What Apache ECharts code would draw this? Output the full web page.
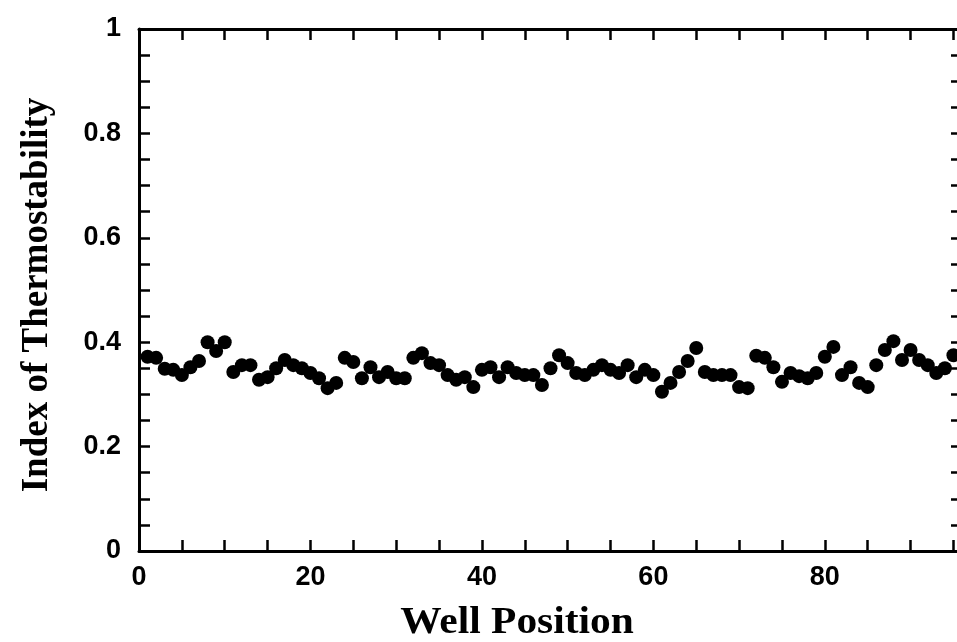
<!DOCTYPE html>
<html>
<head>
<meta charset="utf-8">
<script src="https://cdn.jsdelivr.net/npm/echarts@6/dist/echarts.min.js"></script>
<style>
  html, body { margin: 0; padding: 0; background: #fff; }
  #chart { width: 957px; height: 642px; }
</style>
</head>
<body>
<div id="chart"></div>
<script>
// well numbers on the plate
const wells = [
  1, 2, 3, 4, 5, 6, 7, 8, 9, 10, 11, 12, 13, 14, 15, 16, 17, 18, 19, 20,
  21, 22, 23, 24, 25, 26, 27, 28, 29, 30, 31, 32, 33, 34, 35, 36, 37, 38, 39, 40,
  41, 42, 43, 44, 45, 46, 47, 48, 49, 50, 51, 52, 53, 54, 55, 56, 57, 58, 59, 60,
  61, 62, 63, 64, 65, 66, 67, 68, 69, 70, 71, 72, 73, 74, 75, 76, 77, 78, 79, 80,
  81, 82, 83, 84, 85, 86, 87, 88, 89, 90, 91, 92, 93, 94, 95
]

// index of thermostability
const thermo = [
  0.372, 0.370, 0.349, 0.347, 0.337, 0.352, 0.364, 0.400, 0.383, 0.400,
  0.343, 0.356, 0.356, 0.328, 0.333, 0.350, 0.366, 0.356, 0.350, 0.341,
  0.331, 0.312, 0.322, 0.370, 0.362, 0.331, 0.352, 0.333, 0.343, 0.331,
  0.331, 0.370, 0.379, 0.360, 0.356, 0.337, 0.328, 0.333, 0.314, 0.347,
  0.352, 0.333, 0.352, 0.341, 0.337, 0.337, 0.318, 0.350, 0.375, 0.360,
  0.341, 0.337, 0.347, 0.356, 0.347, 0.341, 0.356, 0.333, 0.347, 0.337,
  0.305, 0.322, 0.343, 0.364, 0.389, 0.343, 0.337, 0.337, 0.337, 0.314,
  0.312, 0.374, 0.370, 0.352, 0.324, 0.341, 0.335, 0.331, 0.341, 0.372,
  0.391, 0.337, 0.352, 0.322, 0.314, 0.356, 0.385, 0.402, 0.366, 0.385,
  0.366, 0.356, 0.341, 0.350, 0.375
]

const xLabels = [0, 20, 40, 60, 80]
const yLabels = [0, 0.2, 0.4, 0.6, 0.8, 1]

const tickFont = 'Liberation Sans, Arial, sans-serif'
const titleFont = 'Liberation Serif, Times New Roman, serif'

const isLabel = (list, v) => list.some(t => Math.abs(t - v) < 1e-6)

const axisLine = { show: true, onZero: false, lineStyle: { color: '#000', width: 3 } }
const axisTick = { show: true, inside: true, length: 11, lineStyle: { color: '#000', width: 2.5 } }

const xBase = { type: 'value', min: 0, max: 96, interval: 5, splitLine: { show: false }, axisLine, axisTick }
const yBase = { type: 'value', min: 0, max: 1, interval: 0.05, splitLine: { show: false }, axisLine, axisTick }

const chart = echarts.init(document.getElementById('chart'))

chart.setOption({
  animation: false,
  backgroundColor: '#fff',
  // the scan cuts the frame off on the right, so the grid runs past the canvas
  grid: { left: 139, right: -5, top: 29, bottom: 91, containLabel: false, outerBoundsMode: 'none' },
  // axis titles placed where they sit in the scan (it is stretched a little sideways)
  graphic: [
    {
      type: 'text',
      x: 517,
      y: 623,
      scaleX: 1.12,
      style: {
        text: 'Well Position',
        fontFamily: titleFont,
        fontWeight: 'bold',
        fontSize: 37,
        fill: '#000',
        align: 'center',
        verticalAlign: 'middle'
      }
    },
    {
      type: 'text',
      x: 37,
      y: 295,
      rotation: Math.PI / 2,
      style: {
        text: 'Index of Thermostability',
        fontFamily: titleFont,
        fontWeight: 'bold',
        fontSize: 37,
        fill: '#000',
        align: 'center',
        verticalAlign: 'middle'
      }
    }
  ],
  xAxis: [
    {
      ...xBase,
      position: 'bottom',
      axisLabel: {
        margin: 13,
        fontFamily: tickFont,
        fontWeight: 'bold',
        fontSize: 27,
        color: '#000',
        formatter: v => isLabel(xLabels, v) ? String(v) : ''
      }
    },
    { ...xBase, position: 'top', axisLabel: { show: false } }
  ],
  yAxis: [
    {
      ...yBase,
      position: 'left',
      axisLabel: {
        margin: 18,
        fontFamily: tickFont,
        fontWeight: 'bold',
        fontSize: 27,
        color: '#000',
        formatter: v => isLabel(yLabels, v) ? (v === 0 || v === 1 ? String(v) : v.toFixed(1)) : ''
      }
    },
    { ...yBase, position: 'right', axisLabel: { show: false } }
  ],
  series: [
    {
      type: 'scatter',
      data: wells.map((w, i) => [w, thermo[i]]),
      symbol: 'circle',
      symbolSize: 14,
      itemStyle: { color: '#000', opacity: 1 }
    }
  ]
})
</script>
</body>
</html>
